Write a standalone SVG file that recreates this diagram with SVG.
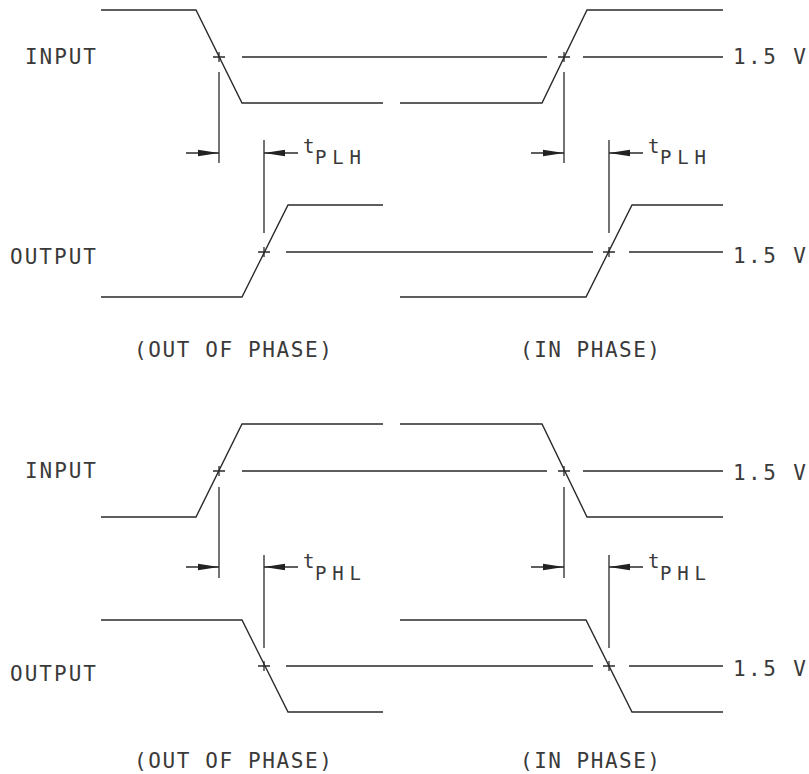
<svg xmlns="http://www.w3.org/2000/svg" width="809" height="774" viewBox="0 0 809 774">
<defs>
<style>
.w{fill:none;stroke:#2a2a2a;stroke-width:1.4;stroke-linejoin:miter}
.r{fill:none;stroke:#2a2a2a;stroke-width:1.3}
.d{fill:none;stroke:#2a2a2a;stroke-width:1.3}
.a{fill:none;stroke:#2a2a2a;stroke-width:1.3;marker-end:url(#ah)}
.t{font-family:"DejaVu Sans Mono","Liberation Mono",monospace;font-size:21px;fill:#3a3a3a}
.s{font-family:"DejaVu Sans Mono","Liberation Mono",monospace;font-size:19px;fill:#3a3a3a}
</style>
<marker id="ah" viewBox="0 0 21 8" refX="21" refY="4" markerWidth="21" markerHeight="8" orient="auto" markerUnits="userSpaceOnUse">
<path d="M0,0.8 L21,4 L0,7.2 z" fill="#222222"/>
</marker>
</defs>
<rect width="809" height="774" fill="#ffffff"/>

<g id="waveforms">
<polyline class="w" points="101,10 196,10 242,103 383,103"/>
<polyline class="w" points="400,103 542,103 587,10 723,10"/>
<polyline class="w" points="101,297 242,297 288,205 383,205"/>
<polyline class="w" points="400,297 586,297 632,205 723,205"/>
<polyline class="w" points="101,517 196,517 242,424 383,424"/>
<polyline class="w" points="400,424 542,424 587,517 723,517"/>
<polyline class="w" points="101,620 242,620 288,712 383,712"/>
<polyline class="w" points="400,620 586,620 632,712 723,712"/>
</g>

<g id="reference-lines">
<path class="r" d="M242,57 H547 M583,57 H723"/>
<path class="r" d="M286,252 H593 M629,252 H723"/>
<path class="r" d="M242,471 H547 M583,471 H723"/>
<path class="r" d="M286,666 H593 M629,666 H723"/>
</g>

<g id="crossings">
<path class="r" d="M213,57 H225 M219,52 V62"/>
<path class="r" d="M558,57 H570 M564,52 V62"/>
<path class="r" d="M258,252 H270 M264,247 V257"/>
<path class="r" d="M603,252 H615 M609,247 V257"/>
<path class="r" d="M213,471 H225 M219,466 V476"/>
<path class="r" d="M558,471 H570 M564,466 V476"/>
<path class="r" d="M258,666 H270 M264,661 V671"/>
<path class="r" d="M603,666 H615 M609,661 V671"/>
</g>

<g id="connectors">
<path class="d" d="M219,72 V163 M264,140 V233"/>
<line class="a" x1="186" y1="153" x2="219" y2="153"/>
<line class="a" x1="298" y1="153" x2="264" y2="153"/>
<path class="d" d="M564,72 V163 M609,140 V233"/>
<line class="a" x1="531" y1="153" x2="564" y2="153"/>
<line class="a" x1="643" y1="153" x2="609" y2="153"/>
<path class="d" d="M219,487 V578 M264,555 V648"/>
<line class="a" x1="186" y1="567" x2="219" y2="567"/>
<line class="a" x1="298" y1="567" x2="264" y2="567"/>
<path class="d" d="M564,487 V578 M609,555 V648"/>
<line class="a" x1="531" y1="567" x2="564" y2="567"/>
<line class="a" x1="643" y1="567" x2="609" y2="567"/>
</g>

<g id="labels">
<text class="t" x="25" y="64" textLength="71" lengthAdjust="spacing">INPUT</text>
<text class="t" x="10" y="264" textLength="86" lengthAdjust="spacing">OUTPUT</text>
<text class="t" x="25" y="478" textLength="71" lengthAdjust="spacing">INPUT</text>
<text class="t" x="10" y="681" textLength="86" lengthAdjust="spacing">OUTPUT</text>
<text class="t" x="733" y="64" textLength="73" lengthAdjust="spacing">1.5 V</text>
<text class="t" x="733" y="263" textLength="73" lengthAdjust="spacing">1.5 V</text>
<text class="t" x="733" y="480" textLength="73" lengthAdjust="spacing">1.5 V</text>
<text class="t" x="733" y="676" textLength="73" lengthAdjust="spacing">1.5 V</text>
<text class="t" x="134" y="357" textLength="198" lengthAdjust="spacing">(OUT OF PHASE)</text>
<text class="t" x="520" y="357" textLength="140" lengthAdjust="spacing">(IN PHASE)</text>
<text class="t" x="134" y="768" textLength="198" lengthAdjust="spacing">(OUT OF PHASE)</text>
<text class="t" x="520" y="768" textLength="140" lengthAdjust="spacing">(IN PHASE)</text>
<text class="s" x="303" y="153">t<tspan x="315" y="164" textLength="46" lengthAdjust="spacing">PLH</tspan></text>
<text class="s" x="648" y="153">t<tspan x="660" y="164" textLength="46" lengthAdjust="spacing">PLH</tspan></text>
<text class="s" x="303" y="568">t<tspan x="315" y="580" textLength="46" lengthAdjust="spacing">PHL</tspan></text>
<text class="s" x="648" y="568">t<tspan x="660" y="580" textLength="46" lengthAdjust="spacing">PHL</tspan></text>
</g>
</svg>
